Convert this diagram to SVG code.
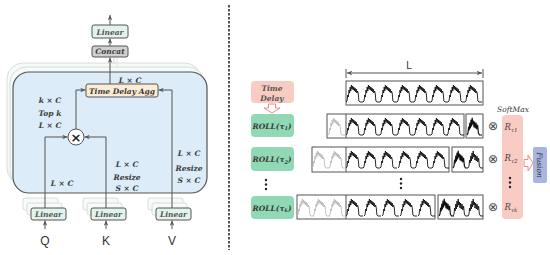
<svg xmlns="http://www.w3.org/2000/svg" width="550" height="255" viewBox="0 0 550 255">
<style>
.lbl{font-family:"DejaVu Serif","Liberation Serif",serif;font-style:italic;font-weight:bold;font-size:7.5px;fill:#3a3a3a;text-anchor:middle}
.box{stroke:#555;stroke-width:1}
.lin{fill:#e2f3eb}
.shadow{fill:#f6faf8;stroke:#cfd6d2;stroke-width:0.8}
.conn{fill:none;stroke:#555;stroke-width:1}
.ts{fill:#fff;stroke:#555;stroke-width:1}
.qkv{font-family:"Liberation Sans",Arial,sans-serif;font-size:12px;fill:#333;text-anchor:middle}
.otimes{font-family:"DejaVu Sans",sans-serif;font-size:12px;fill:#444;text-anchor:middle}
.rl{font-family:"DejaVu Serif","Liberation Serif",serif;font-style:italic;font-size:8.5px;fill:#444;text-anchor:middle}
.wb{fill:none;stroke:#111;stroke-width:0.9;stroke-linejoin:round}
.wg{fill:none;stroke:#bbb;stroke-width:0.9;stroke-linejoin:round}
.wd{fill:none;stroke:#111;stroke-width:1.2;stroke-linejoin:round}
</style>
<defs>
<marker id="ah" viewBox="0 0 8 8" refX="7" refY="4" markerWidth="6" markerHeight="6" orient="auto-start-reverse">
<path d="M0,1 L7,4 L0,7 L2,4 Z" fill="#555"/>
</marker>
<path id="w" d="M0,21 L1,20 L1.8,14 L2.4,16 L3,9 L3.6,12 L4.2,6 L4.8,10 L5.4,4 L6,8 L6.6,5 L7.2,9 L7.8,6 L8.4,10 L9,7 L9.6,11 L10.2,8 L10.8,12 L11.6,10 L12.3,13 L12.9,20 L14,21 L17,21"/>
<path id="wdn" d="M0,21 L1,19 L1.6,13 L2.2,16 L2.8,9 L3.4,14 L4,6 L4.6,12 L5.2,4 L5.8,10 L6.4,7 L7,13 L7.6,8 L8.3,14 L9,9 L9.8,15 L10.6,11 L11.4,19 L12.5,21 L15,21"/>
</defs>

<!-- divider -->
<line x1="229" y1="5" x2="229" y2="250" stroke="#222" stroke-width="1.5" stroke-dasharray="2.5,1.5"/>

<!-- LEFT PANEL -->
<g id="encoder-block">
<rect x="7" y="63" width="194" height="121" rx="16" class="shadow"/>
<rect x="10" y="67" width="194" height="121" rx="16" class="shadow"/>
<rect x="13" y="72" width="194" height="121" rx="16" fill="#dcecf8" stroke="#555" stroke-width="1.2"/>
</g>

<g id="linear-out">
<rect x="92" y="25" width="36" height="13" rx="2" class="box lin"/>
<text x="110" y="34.5" class="lbl" style="fill:#555">Linear</text>
</g>
<g id="concat">
<rect x="92" y="46" width="36" height="11" rx="2" class="box" fill="#d0d0d0"/>
<text x="110" y="54.3" class="lbl">Concat</text>
</g>
<g id="time-delay-agg">
<rect x="86" y="84" width="72" height="13" rx="2" class="box" fill="#fdecd5"/>
<text x="122" y="93.5" class="lbl" textLength="66" lengthAdjust="spacingAndGlyphs">Time Delay Agg</text>
</g>
<g id="multiply">
<circle cx="76" cy="137" r="8" fill="#fff" stroke="#555" stroke-width="1"/>
<text x="76" y="141.5" font-family="DejaVu Sans,sans-serif" font-size="13" font-weight="bold" fill="#222" text-anchor="middle">×</text>
</g>

<g id="linear-q">
<rect x="23" y="198" width="35" height="12" rx="2" class="shadow"/>
<rect x="27" y="203" width="35" height="12" rx="2" class="shadow"/>
<rect x="31" y="208" width="35" height="12" rx="2" class="box lin"/>
<text x="48.5" y="217" class="lbl" style="fill:#555">Linear</text>
<text x="45" y="245" class="qkv">Q</text>
</g>
<g id="linear-k">
<rect x="83" y="198" width="35" height="12" rx="2" class="shadow"/>
<rect x="87" y="203" width="35" height="12" rx="2" class="shadow"/>
<rect x="91" y="208" width="35" height="12" rx="2" class="box lin"/>
<text x="108.5" y="217" class="lbl" style="fill:#555">Linear</text>
<text x="106" y="245" class="qkv">K</text>
</g>
<g id="linear-v">
<rect x="148" y="198" width="35" height="12" rx="2" class="shadow"/>
<rect x="152" y="203" width="35" height="12" rx="2" class="shadow"/>
<rect x="156" y="208" width="35" height="12" rx="2" class="box lin"/>
<text x="173.5" y="217" class="lbl" style="fill:#555">Linear</text>
<text x="172" y="245" class="qkv">V</text>
</g>

<g id="left-labels">
<text x="130" y="83" class="lbl">L × C</text>
<text x="50" y="103" class="lbl">k × C</text>
<text x="50" y="116" class="lbl">Top k</text>
<text x="50" y="128" class="lbl">L × C</text>
<text x="62" y="186" class="lbl">L × C</text>
<text x="127" y="167" class="lbl">L × C</text>
<text x="127" y="180" class="lbl">Resize</text>
<text x="127" y="191" class="lbl">S × C</text>
<text x="189" y="156" class="lbl">L × C</text>
<text x="189" y="171" class="lbl">Resize</text>
<text x="189" y="183" class="lbl">S × C</text>
</g>

<g id="connectors">
<line x1="110" y1="25" x2="110" y2="15" class="conn" marker-end="url(#ah)"/>
<line x1="110" y1="46" x2="110" y2="38.5" class="conn" marker-end="url(#ah)"/>
<line x1="110" y1="84" x2="110" y2="57.5" class="conn" marker-end="url(#ah)"/>
<line x1="114" y1="63" x2="114" y2="58" stroke="#ccc" stroke-width="0.8"/>
<line x1="117" y1="67" x2="117" y2="58" stroke="#ddd" stroke-width="0.8"/>
<polyline points="76,129 76,90 85.5,90" class="conn" marker-end="url(#ah)"/>
<polyline points="172,208 172,90 158.5,90" class="conn" marker-end="url(#ah)"/>
<polyline points="45,208 45,137 67.5,137" class="conn" marker-end="url(#ah)"/>
<polyline points="106,208 106,137 84.5,137" class="conn" marker-end="url(#ah)"/>
<line x1="45" y1="229" x2="45" y2="220.5" class="conn" marker-end="url(#ah)"/>
<line x1="106" y1="229" x2="106" y2="220.5" class="conn" marker-end="url(#ah)"/>
<line x1="172" y1="229" x2="172" y2="220.5" class="conn" marker-end="url(#ah)"/>
<!-- right panel arrows -->
<polygon points="268.5,104 275.5,104 275.5,108 280,108 272,113 264,108 268.5,108" fill="#fff" stroke="#f08a8a" stroke-width="1"/>
<polygon points="524,159.5 528,159.5 528,155 533,163 528,171 528,166.5 524,166.5" fill="#fff" stroke="#f08a8a" stroke-width="1"/>
<line x1="347" y1="73" x2="482" y2="73" class="conn" marker-start="url(#ah)" marker-end="url(#ah)"/>
<line x1="346" y1="69" x2="346" y2="78" stroke="#555" stroke-width="1"/>
<line x1="483" y1="69" x2="483" y2="78" stroke="#555" stroke-width="1"/>
</g>

<!-- RIGHT PANEL -->
<g id="time-delay">
<rect x="251" y="81" width="43" height="22" rx="4" fill="#f9ccc3"/>
<text x="272" y="91" class="lbl" style="fill:#555">Time</text>
<text x="272" y="100.5" class="lbl" style="fill:#555">Delay</text>
</g>
<g id="roll-1">
<rect x="251" y="114" width="43" height="23" rx="4" fill="#90d9b4"/>
<text x="272" y="128.5" class="lbl">ROLL(τ<tspan font-size="5" dy="1.5">1</tspan><tspan dy="-1.5">)</tspan></text>
</g>
<g id="roll-2">
<rect x="251" y="147" width="43" height="24" rx="4" fill="#90d9b4"/>
<text x="272" y="162" class="lbl">ROLL(τ<tspan font-size="5" dy="1.5">2</tspan><tspan dy="-1.5">)</tspan></text>
</g>
<g id="roll-k">
<rect x="251" y="196" width="43" height="23" rx="4" fill="#90d9b4"/>
<text x="272" y="210.5" class="lbl">ROLL(τ<tspan font-size="5" dy="1.5">k</tspan><tspan dy="-1.5">)</tspan></text>
</g>
<g id="dots-left" fill="#222">
<circle cx="266" cy="180" r="1.2"/><circle cx="266" cy="184.5" r="1.2"/><circle cx="266" cy="189" r="1.2"/>
</g>

<text x="409" y="69" font-family="Liberation Sans,Arial,sans-serif" font-size="10" fill="#333" text-anchor="middle">L</text>

<g id="series-original">
<rect x="346" y="81" width="137" height="24" class="ts"/>
<g class="wb">
<use href="#w" x="346" y="81"/><use href="#w" x="363" y="81"/><use href="#w" x="380" y="81"/><use href="#w" x="397" y="81"/>
<use href="#w" x="414" y="81"/><use href="#w" x="431" y="81"/><use href="#w" x="448" y="81"/><use href="#w" x="465" y="81"/>
</g>
</g>

<g id="series-roll-1">
<rect x="327" y="114" width="137" height="24" class="ts"/>
<line x1="346" y1="114" x2="346" y2="138" stroke="#555"/>
<rect x="466" y="114" width="17" height="24" class="ts"/>
<g class="wg"><use href="#w" x="328" y="114"/></g>
<g class="wb">
<use href="#w" x="346" y="114"/><use href="#w" x="363" y="114"/><use href="#w" x="380" y="114"/><use href="#w" x="397" y="114"/>
<use href="#w" x="414" y="114"/><use href="#w" x="431" y="114"/><use href="#w" x="447" y="114"/>
</g>
<g class="wd"><use href="#wdn" x="467" y="114"/></g>
<text x="493" y="130" class="otimes">⊗</text>
</g>

<g id="series-roll-2">
<rect x="312" y="147" width="137" height="25" class="ts"/>
<line x1="346" y1="147" x2="346" y2="172" stroke="#555"/>
<rect x="452" y="147" width="31" height="25" class="ts"/>
<g class="wg"><use href="#w" x="312" y="147"/><use href="#w" x="329" y="147"/></g>
<g class="wb">
<use href="#w" x="346" y="147"/><use href="#w" x="363" y="147"/><use href="#w" x="380" y="147"/>
<use href="#w" x="398" y="147"/><use href="#w" x="415" y="147"/><use href="#w" x="432" y="147"/>
</g>
<g class="wd"><use href="#wdn" x="453" y="147"/></g>
<g class="wb"><use href="#wdn" x="468" y="147"/></g>
<text x="493" y="163" class="otimes">⊗</text>
</g>

<g id="dots-mid" fill="#222">
<circle cx="401" cy="179" r="1.2"/><circle cx="401" cy="183.5" r="1.2"/><circle cx="401" cy="188" r="1.2"/>
</g>

<g id="series-roll-k">
<rect x="297" y="195" width="138" height="24" class="ts"/>
<line x1="346" y1="195" x2="346" y2="219" stroke="#555"/>
<rect x="438" y="195" width="45" height="24" class="ts"/>
<g class="wg"><use href="#w" x="297" y="195"/><use href="#w" x="313" y="195"/><use href="#w" x="329" y="195"/></g>
<g class="wb">
<use href="#w" x="346" y="195"/><use href="#w" x="364" y="195"/><use href="#w" x="382" y="195"/>
<use href="#w" x="400" y="195"/><use href="#w" x="418" y="195"/>
</g>
<g class="wd"><use href="#wdn" x="439" y="195"/></g>
<g class="wb"><use href="#wdn" x="453" y="195"/><use href="#wdn" x="468" y="195"/></g>
<text x="493" y="211" class="otimes">⊗</text>
</g>

<g id="softmax-r">
<text x="513" y="112" class="lbl" style="font-weight:normal">SoftMax</text>
<rect x="502" y="115" width="21" height="104" rx="4" fill="#f9ccc3"/>
<text x="511" y="130" class="rl">R<tspan font-size="5.5" dy="2">τ1</tspan></text>
<text x="511" y="161" class="rl">R<tspan font-size="5.5" dy="2">τ2</tspan></text>
<text x="511" y="210" class="rl">R<tspan font-size="5.5" dy="2">τk</tspan></text>
<circle cx="510" cy="178" r="1.2" fill="#222"/><circle cx="510" cy="182.5" r="1.2" fill="#222"/><circle cx="510" cy="187" r="1.2" fill="#222"/>
</g>

<g id="fusion">
<rect x="533" y="147" width="14" height="36" rx="2" fill="#a8b5de"/>
<text x="540" y="165" class="lbl" style="font-weight:normal;fill:#333" transform="rotate(90 540 165)" dy="3">Fusion</text>
</g>
</svg>
